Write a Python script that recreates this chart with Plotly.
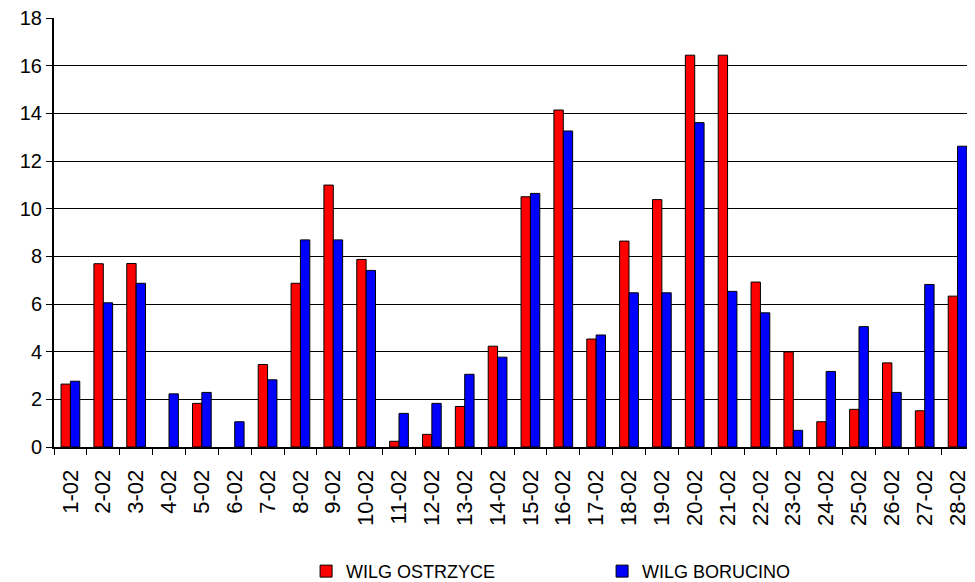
import plotly.graph_objects as go

categories = [f"{d}-02" for d in range(1, 29)]
ostrzyce = [2.64, 7.69, 7.70, None, 1.83, None, 3.46, 6.87, 10.99, 7.87,
            0.24, 0.53, 1.70, 4.23, 10.50, 14.14, 4.53, 8.64, 10.38, 16.44,
            16.44, 6.92, 3.99, 1.06, 1.58, 3.53, 1.52, 6.33]
borucino = [2.76, 6.05, 6.87, 2.23, 2.29, 1.06, 2.82, 8.69, 8.69, 7.41,
            1.41, 1.83, 3.05, 3.77, 10.64, 13.26, 4.70, 6.47, 6.47, 13.61,
            6.53, 5.63, 0.70, 3.17, 5.05, 2.29, 6.82, 12.62]

fig = go.Figure()
fig.add_bar(x=categories, y=ostrzyce, name="WILG OSTRZYCE",
            marker=dict(color="#ff0000", line=dict(color="black", width=1)))
fig.add_bar(x=categories, y=borucino, name="WILG BORUCINO",
            marker=dict(color="#0000ff", line=dict(color="black", width=1)))

font_family = "Liberation Sans, Arial, sans-serif"
fig.update_layout(
    width=967, height=574,
    margin=dict(l=46, r=1, t=10, b=135, autoexpand=False),
    paper_bgcolor="white", plot_bgcolor="white",
    barmode="group", bargap=0.43, bargroupgap=0,
    font=dict(family=font_family, color="black"),
    showlegend=True,
    legend=dict(orientation="h", x=0.274, xanchor="left", y=-0.29, yanchor="middle",
                font=dict(size=18, color="black"), entrywidth=251, entrywidthmode="pixels",
                bgcolor="rgba(0,0,0,0)", itemclick=False),
)
fig.update_xaxes(
    type="category", showline=True, linecolor="black", linewidth=2,
    ticks="outside", tickson="boundaries", ticklen=6, tickcolor="black", tickwidth=1,
    tickangle=-90, tickfont=dict(size=22, color="black"), showgrid=False,
    ticklabelstandoff=12, ticklabeloverflow="allow",
    range=[-0.5, 27.5], automargin=False,
)
fig.update_yaxes(
    range=[0, 18], dtick=2, showline=True, linecolor="black", linewidth=2,
    ticks="outside", ticklen=6, tickcolor="black", tickwidth=1,
    tickfont=dict(size=20, color="black"), automargin=False, ticklabeloverflow="allow",
    showgrid=True, gridcolor="black", gridwidth=1, zeroline=False,
)

fig.write_html("out.html")
